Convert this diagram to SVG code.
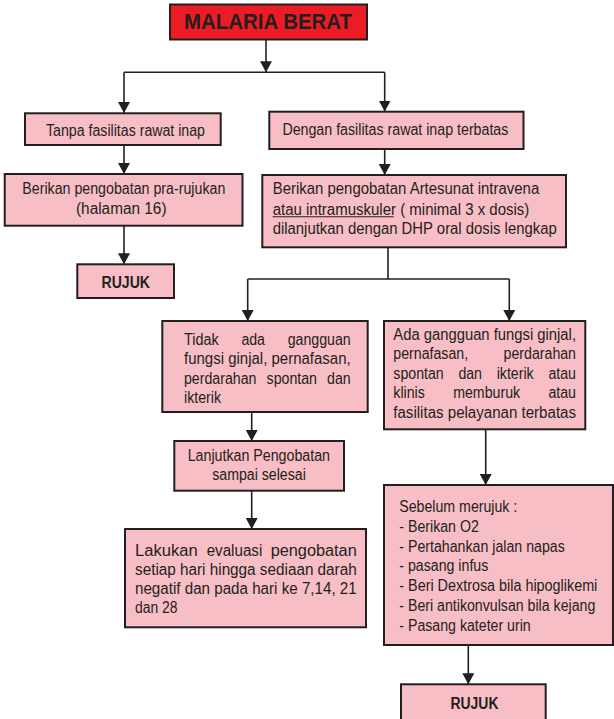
<svg xmlns="http://www.w3.org/2000/svg" width="614" height="719" viewBox="0 0 614 719">
<defs>
<style>
.box{fill:#F8BEC6;stroke:#231F20;stroke-width:2}
.title{fill:#ED1C24;stroke:#231F20;stroke-width:2}
.t{font-family:"Liberation Sans",Arial,Helvetica,sans-serif;font-size:16px;fill:#231F20}
.b{font-family:"Liberation Sans",Arial,Helvetica,sans-serif;font-size:16px;font-weight:bold;fill:#231F20}
.big{font-family:"Liberation Sans",Arial,Helvetica,sans-serif;font-size:21.5px;font-weight:bold;fill:#231F20}
.c{fill:none;stroke:#231F20;stroke-width:1.6;marker-end:url(#ah)}
.l{fill:none;stroke:#231F20;stroke-width:1.6}
</style>
<marker id="ah" markerUnits="userSpaceOnUse" viewBox="0 0 11 12" markerWidth="11" markerHeight="12" refX="11" refY="6" orient="auto">
<path d="M0,0 L11,6 L0,12 z" fill="#231F20"/>
</marker>
</defs>
<rect width="614" height="719" fill="#FFFFFF"/>

<g id="connectors">
<path class="c" d="M266,39.5 V72.3"/>
<path class="l" d="M124,72.3 H384.7"/>
<path class="c" d="M124,72.3 V113"/>
<path class="c" d="M384.7,72.3 V111.5"/>
<path class="c" d="M124,145 V174"/>
<path class="c" d="M124,225.7 V264.3"/>
<path class="c" d="M384.7,149 V175"/>
<path class="l" d="M388,247.3 V279 M247.7,279 H509.3"/>
<path class="c" d="M247.7,279 V321"/>
<path class="c" d="M509.3,279 V321"/>
<path class="c" d="M251.7,412 V441"/>
<path class="c" d="M251.7,490.7 V529"/>
<path class="c" d="M485.7,429.3 V485"/>
<path class="c" d="M468.3,645 V684.3"/>
</g>

<g id="malaria-berat">
<rect class="title" x="170" y="4.5" width="197" height="35"/>
<text class="big" x="184" y="29.3" textLength="168" lengthAdjust="spacingAndGlyphs">MALARIA BERAT</text>
</g>

<g id="tanpa-fasilitas">
<rect class="box" x="25" y="113.3" width="195.7" height="31.7"/>
<text class="t" x="46" y="136" textLength="159" lengthAdjust="spacingAndGlyphs">Tanpa fasilitas rawat inap</text>
</g>

<g id="dengan-fasilitas">
<rect class="box" x="269.3" y="111.7" width="254.2" height="37.3"/>
<text class="t" x="282.4" y="135" textLength="226" lengthAdjust="spacingAndGlyphs">Dengan fasilitas rawat inap terbatas</text>
</g>

<g id="pra-rujukan">
<rect class="box" x="4.7" y="174" width="237.8" height="51.7"/>
<text class="t" x="22.3" y="194.3" textLength="203" lengthAdjust="spacingAndGlyphs">Berikan pengobatan pra-rujukan</text>
<text class="t" x="76" y="214.3" textLength="90.5" lengthAdjust="spacingAndGlyphs">(halaman 16)</text>
</g>

<g id="rujuk-1">
<rect class="box" x="77.3" y="264.3" width="96.7" height="33.7"/>
<text class="b" x="101.5" y="287.7" textLength="48.5" lengthAdjust="spacingAndGlyphs">RUJUK</text>
</g>

<g id="artesunat">
<rect class="box" x="262.3" y="175" width="303.7" height="72.3"/>
<text class="t" x="272.7" y="194.3" textLength="266.5" lengthAdjust="spacingAndGlyphs">Berikan pengobatan Artesunat intravena</text>
<text class="t" x="272.7" y="214.5" textLength="256.6" lengthAdjust="spacingAndGlyphs">atau intramuskuler ( minimal 3 x dosis)</text>
<path class="l" d="M272.7,216.7 H393.7" style="stroke-width:1.1"/>
<text class="t" x="272.7" y="234" textLength="284" lengthAdjust="spacingAndGlyphs">dilanjutkan dengan DHP oral dosis lengkap</text>
</g>

<g id="tidak-ada-gangguan">
<rect class="box" x="162.3" y="321" width="205.4" height="91"/>
<text class="t" y="345"><tspan x="184" textLength="34.6" lengthAdjust="spacingAndGlyphs">Tidak</tspan> <tspan x="241.4" textLength="23.6" lengthAdjust="spacingAndGlyphs">ada</tspan> <tspan x="287.7" textLength="63" lengthAdjust="spacingAndGlyphs">gangguan</tspan></text>
<text class="t" x="184" y="364.3" textLength="166.7" lengthAdjust="spacingAndGlyphs">fungsi ginjal, pernafasan,</text>
<text class="t" y="383.6"><tspan x="184" textLength="72.4" lengthAdjust="spacingAndGlyphs">perdarahan</tspan> <tspan x="266.6" textLength="50.4" lengthAdjust="spacingAndGlyphs">spontan</tspan> <tspan x="327.1" textLength="23.6" lengthAdjust="spacingAndGlyphs">dan</tspan></text>
<text class="t" x="184" y="402.9" textLength="37" lengthAdjust="spacingAndGlyphs">ikterik</text>
</g>

<g id="ada-gangguan">
<rect class="box" x="384" y="321" width="201.3" height="108.3"/>
<text class="t" x="393.3" y="339.5" textLength="182.7" lengthAdjust="spacingAndGlyphs">Ada gangguan fungsi ginjal,</text>
<text class="t" y="359"><tspan x="393.3" textLength="74.8" lengthAdjust="spacingAndGlyphs">pernafasan,</tspan> <tspan x="503.6" textLength="72.4" lengthAdjust="spacingAndGlyphs">perdarahan</tspan></text>
<text class="t" y="378.5"><tspan x="393.3" textLength="50.4" lengthAdjust="spacingAndGlyphs">spontan</tspan> <tspan x="458.4" textLength="23.6" lengthAdjust="spacingAndGlyphs">dan</tspan> <tspan x="496.7" textLength="37" lengthAdjust="spacingAndGlyphs">ikterik</tspan> <tspan x="548.4" textLength="27.6" lengthAdjust="spacingAndGlyphs">atau</tspan></text>
<text class="t" y="398"><tspan x="393.3" textLength="31.5" lengthAdjust="spacingAndGlyphs">klinis</tspan> <tspan x="453.2" textLength="66.9" lengthAdjust="spacingAndGlyphs">memburuk</tspan> <tspan x="548.4" textLength="27.6" lengthAdjust="spacingAndGlyphs">atau</tspan></text>
<text class="t" x="393.3" y="417.5" textLength="182.7" lengthAdjust="spacingAndGlyphs">fasilitas pelayanan terbatas</text>
</g>

<g id="lanjutkan">
<rect class="box" x="174.3" y="441" width="169.7" height="49.7"/>
<text class="t" x="187.7" y="461" textLength="142.3" lengthAdjust="spacingAndGlyphs">Lanjutkan Pengobatan</text>
<text class="t" x="212.3" y="480" textLength="93.5" lengthAdjust="spacingAndGlyphs">sampai selesai</text>
</g>

<g id="lakukan-evaluasi">
<rect class="box" x="125" y="529" width="241" height="98.3"/>
<text class="t" y="556"><tspan x="135" textLength="62.7" lengthAdjust="spacingAndGlyphs">Lakukan</tspan> <tspan x="206.7" textLength="55.6" lengthAdjust="spacingAndGlyphs">evaluasi</tspan> <tspan x="270.7" textLength="86" lengthAdjust="spacingAndGlyphs">pengobatan</tspan></text>
<text class="t" x="135" y="575" textLength="221.7" lengthAdjust="spacingAndGlyphs">setiap hari hingga sediaan darah</text>
<text class="t" x="135" y="594" textLength="221.7" lengthAdjust="spacingAndGlyphs">negatif dan pada hari ke 7,14, 21</text>
<text class="t" x="135" y="613.3" textLength="42.5" lengthAdjust="spacingAndGlyphs">dan 28</text>
</g>

<g id="sebelum-merujuk">
<rect class="box" x="384" y="485" width="229" height="160"/>
<text class="t" x="399.3" y="512" textLength="118" lengthAdjust="spacingAndGlyphs">Sebelum merujuk :</text>
<text class="t" x="399.3" y="531.8" textLength="79.5" lengthAdjust="spacingAndGlyphs">- Berikan O2</text>
<text class="t" x="399.3" y="551.6" textLength="165.5" lengthAdjust="spacingAndGlyphs">- Pertahankan jalan napas</text>
<text class="t" x="399.3" y="571.4" textLength="89" lengthAdjust="spacingAndGlyphs">- pasang infus</text>
<text class="t" x="399.3" y="591.2" textLength="198" lengthAdjust="spacingAndGlyphs">- Beri Dextrosa bila hipoglikemi</text>
<text class="t" x="399.3" y="611" textLength="196" lengthAdjust="spacingAndGlyphs">- Beri antikonvulsan bila kejang</text>
<text class="t" x="399.3" y="630.8" textLength="131.4" lengthAdjust="spacingAndGlyphs">- Pasang kateter urin</text>
</g>

<g id="rujuk-2">
<rect class="box" x="401" y="684.3" width="144.7" height="40"/>
<text class="b" x="450.5" y="709.3" textLength="48" lengthAdjust="spacingAndGlyphs">RUJUK</text>
</g>
</svg>
